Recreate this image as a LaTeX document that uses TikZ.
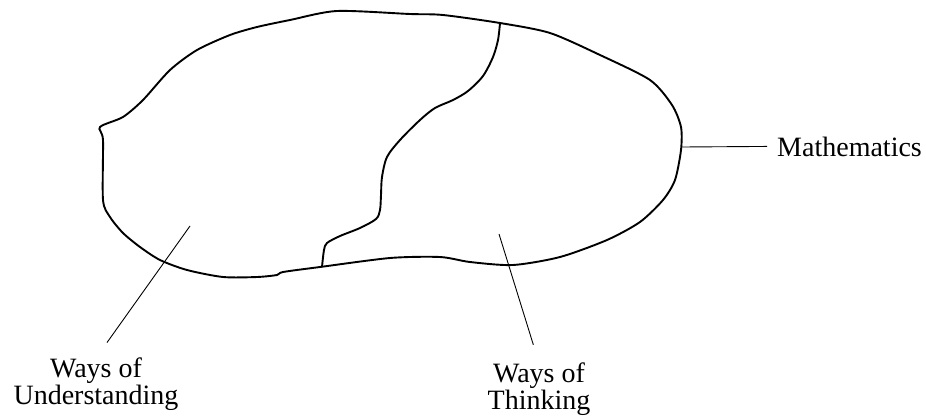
\documentclass[tikz,border=0pt]{standalone}
\usepackage{fontspec}
\setmainfont{Liberation Serif}
\usetikzlibrary{positioning}

\begin{document}
\begin{tikzpicture}[x=1pt,y=-1pt,
        outline/.style={line width=1.9pt,line join=round},
        pointer/.style={line width=0.9pt},
        lbl/.style={font=\fontsize{28}{27}\selectfont,align=center,inner sep=0pt}]
        \useasboundingbox (0,0) rectangle (926,418);
        \draw[outline] plot[smooth cycle,tension=0.45] coordinates {
            (337,11) (410,14) (443,15) (500,23) (550,33) (600,55) (650,80) (672,105)
            (681,127) (681,150) (675,180) (663,200) (640,222) (607,240) (560,257)
            (513,265) (470,262) (440,257) (390,258) (320,267) (283,272) (277,275)
            (257,277) (223,277) (187,270) (160,260) (140,247) (123,233) (110,217)
            (103,200) (103,140) (100,127) (123,117) (143,100) (170,70) (197,50)
            (230,35) (257,27) (290,20)};
        \draw[outline] plot[smooth,tension=0.5] coordinates {
            (500,23) (498,40) (493,57) (483,76) (468,91) (453,100) (435,108) (420,120)
            (400,140) (387,157) (382,177) (381,195) (380,210) (376,219) (360,228)
            (340,236) (327,243) (324,250) (322,267)};
        \coordinate (upt) at (190,226);
        \coordinate (tpt) at (499,234);
        \coordinate (mpt) at (682,147);
        \node[lbl,anchor=north] (under) at (96,358) {Ways of\\Understanding};
        \node[lbl,anchor=north] (think) at (539,363) {Ways of\\Thinking};
        \node[lbl,inner xsep=10pt,anchor=base west] (math) at (767,156) {Mathematics};
        \draw[pointer,shorten >=19pt] (upt) -- (under.north);
        \draw[pointer,shorten >=19pt] (tpt) -- (think.north);
        \draw[pointer] (mpt) -- (math.west);
    \end{tikzpicture}
\end{document}
